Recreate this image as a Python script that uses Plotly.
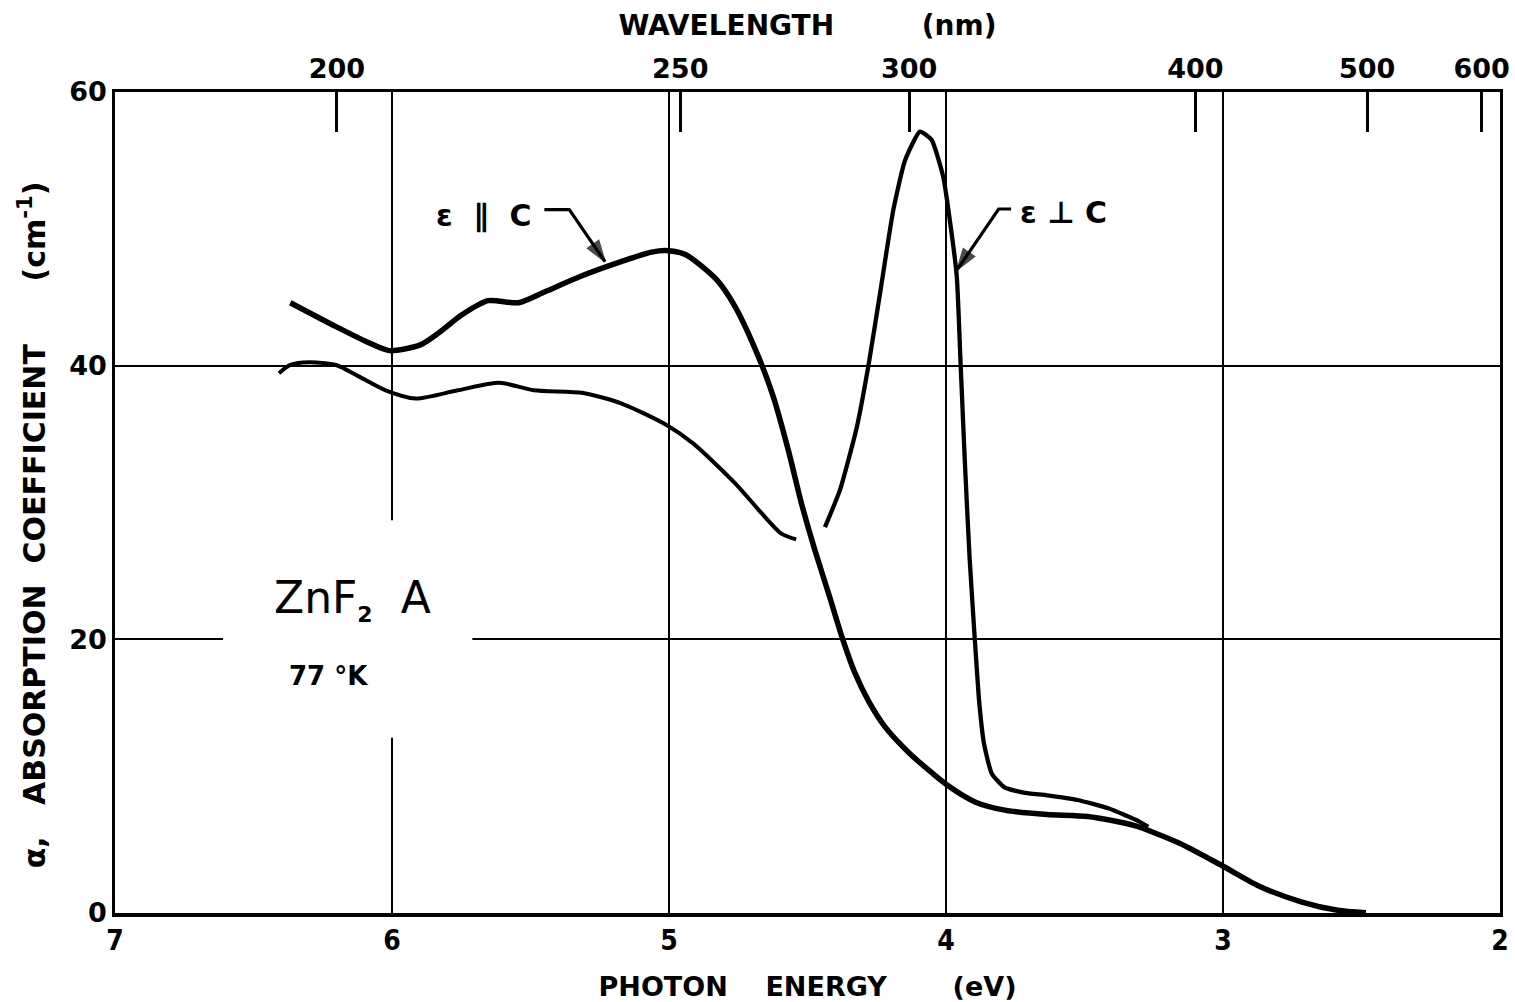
import plotly.graph_objects as go

# ---- data ----
# E parallel c  (photon energy eV, absorption coefficient cm^-1)
par_E = [6.367, 6.202, 6.092, 6.010, 5.900, 5.831, 5.749, 5.653, 5.543, 5.448, 5.323, 5.173,
         5.063, 5.001, 4.939, 4.829, 4.761, 4.678, 4.623, 4.569, 4.520, 4.470, 4.420, 4.376,
         4.330, 4.280, 4.220, 4.133, 3.996, 3.893, 3.783, 3.635, 3.488, 3.322, 3.157, 2.998,
         2.863, 2.715, 2.586, 2.484]
par_a = [44.6, 42.85, 41.75, 41.1, 41.5, 42.4, 43.7, 44.75, 44.6, 45.4, 46.5, 47.6,
         48.3, 48.4, 48.1, 46.3, 44.3, 40.7, 37.7, 33.8, 29.8, 26.3, 23.1, 20.2,
         17.6, 15.5, 13.6, 11.7, 9.35, 8.1, 7.5, 7.2, 7.05, 6.4, 5.1, 3.4,
         1.9, 0.8, 0.2, 0.02]

# E perpendicular c : high-energy branch (broken where it crosses the other curve)
perp1_E = [6.408, 6.367, 6.298, 6.202, 6.119, 6.023, 5.914, 5.763, 5.612, 5.488, 5.310,
           5.173, 5.012, 4.912, 4.761, 4.665, 4.596, 4.541]
perp1_a = [39.45, 40.05, 40.25, 40.05, 39.2, 38.2, 37.6, 38.2, 38.75, 38.2, 38.0,
           37.25, 35.7, 34.3, 31.4, 29.2, 27.75, 27.3]
# E perpendicular c : peak branch
perp2_E = [4.437, 4.383, 4.322, 4.280, 4.238, 4.190, 4.148, 4.094, 4.052, 4.010, 3.986,
           3.961, 3.947, 3.932, 3.915, 3.896, 3.880, 3.863, 3.835, 3.790, 3.720, 3.635,
           3.525, 3.414, 3.304, 3.270]
perp2_a = [28.2, 30.9, 35.5, 40.0, 45.3, 51.4, 55.0, 57.1, 56.5, 53.8, 50.6,
           46.5, 40.0, 33.0, 26.0, 20.0, 15.4, 12.4, 10.2, 9.2, 8.8, 8.6,
           8.26, 7.65, 6.7, 6.3]

x_ticks = [7, 6, 5, 4, 3, 2]
y_ticks = [0, 20, 40, 60]
wl_ticks = [200, 250, 300, 400, 500, 600]   # nm
HC = 1239.84  # eV nm

# label leader lines (energy, alpha): text end -> bend -> arrow tip
par_lead_E = [5.45, 5.36, 5.231]
par_lead_a = [51.4, 51.4, 47.6]
perp_lead_E = [3.765, 3.81, 3.960]
perp_lead_a = [51.45, 51.45, 47.0]

FC = "DejaVu Sans Condensed"
FS = "DejaVu Sans"
NB = "\u00a0"

fig = go.Figure()
fig.add_trace(go.Scatter(x=par_E, y=par_a, mode="lines",
                         line=dict(color="black", width=5.5, shape="spline", smoothing=0.7),
                         name="ε ∥ c", showlegend=False, hoverinfo="skip"))
fig.add_trace(go.Scatter(x=perp1_E, y=perp1_a, mode="lines",
                         line=dict(color="black", width=4, shape="spline", smoothing=0.7),
                         name="ε ⊥ c", showlegend=False, hoverinfo="skip"))
fig.add_trace(go.Scatter(x=perp2_E, y=perp2_a, mode="lines",
                         line=dict(color="black", width=4.3, shape="spline", smoothing=0.5),
                         name="ε ⊥ c", showlegend=False, hoverinfo="skip"))
# leader lines with arrow heads
for lx, ly in ((par_lead_E, par_lead_a), (perp_lead_E, perp_lead_a)):
    fig.add_trace(go.Scatter(x=lx, y=ly, mode="lines+markers",
                             line=dict(color="black", width=3.2),
                             marker=dict(symbol=["circle", "circle", "arrow"], size=[0, 0, 22],
                                         angleref="previous", color="black",
                                         line=dict(width=1.5, color="black")),
                             showlegend=False, hoverinfo="skip"))
# helper (invisible) trace so that the top wavelength axis is drawn
fig.add_trace(go.Scatter(x=[7, 2], y=[0, 0], xaxis="x2", mode="lines",
                         line=dict(width=0), opacity=0, showlegend=False, hoverinfo="skip"))

fig.update_layout(
    width=1515, height=1002,
    margin=dict(l=115, r=15, t=92, b=89, autoexpand=False),
    paper_bgcolor="white", plot_bgcolor="white",
    font=dict(family=FC, color="black"),
    xaxis=dict(range=[7, 2], tickvals=x_ticks, ticktext=[str(v) for v in x_ticks],
               showgrid=True, gridcolor="black", gridwidth=1.6, automargin=False,
               showline=True, linecolor="black", linewidth=3.5, mirror=False,
               ticks="", zeroline=False,
               tickfont=dict(size=28, family=FC, weight="bold"),
               title=dict(text="PHOTON" + NB * 4 + "ENERGY" + NB * 7 + "(eV)",
                          font=dict(size=27, family=FS, weight="bold"), standoff=22)),
    xaxis2=dict(overlaying="x", side="top", range=[7, 2], automargin=False,
                tickvals=[HC / w for w in wl_ticks], ticktext=[str(w) for w in wl_ticks],
                ticks="inside", ticklen=40, tickwidth=2.5, tickcolor="black",
                showgrid=False, showline=True, linecolor="black", linewidth=3,
                zeroline=False,
                tickfont=dict(size=27, family=FS, weight="bold"),
                title=dict(text="WAVELENGTH" + NB * 9 + "(nm)",
                           font=dict(size=28, family=FS, weight="bold"), standoff=10)),
    yaxis=dict(range=[0, 60], tickvals=y_ticks, ticktext=[str(v) for v in y_ticks],
               showgrid=True, gridcolor="black", gridwidth=1.6, automargin=False,
               showline=True, linecolor="black", linewidth=2.5, mirror=True,
               ticks="", zeroline=False,
               tickfont=dict(size=27, family=FS, weight="bold")),
)

# y-axis title (placed as rotated text, slightly below the plot centre as in the original)
fig.add_annotation(xref="paper", yref="paper", x=-0.0595, y=0.473, showarrow=False,
                   textangle=-90, xanchor="center", yanchor="middle",
                   text="α," + NB * 3 + "ABSORPTION" + NB * 2 + "COEFFICIENT" + NB * 6
                        + "(cm<sup>-1</sup>)",
                   font=dict(size=30, family=FS, weight="bold", color="black"))

# white box behind the sample label (interrupts grid lines)
fig.add_shape(type="rect", xref="x", yref="y", x0=6.61, x1=5.71, y0=12.8, y1=28.7,
              fillcolor="white", line=dict(width=0), layer="between")

# sample label
fig.add_annotation(x=6.144, y=22.9, xref="x", yref="y", showarrow=False,
                   text="ZnF<sub><span style='font-size:22px;font-weight:bold'>2</span></sub>"
                        + NB * 2 + "A",
                   font=dict(size=44, family=FS, color="black"))
fig.add_annotation(x=6.231, y=17.3, xref="x", yref="y", showarrow=False,
                   text="<b>77" + NB + "°K</b>", font=dict(size=26, family=FS, color="black"))

# curve labels
fig.add_annotation(x=5.668, y=51.0, xref="x", yref="y", showarrow=False,
                   text="<b>ε" + NB * 2 + "∥" + NB * 2 + "C</b>",
                   font=dict(size=30, family=FS, color="black"))
fig.add_annotation(x=3.575, y=51.2, xref="x", yref="y", showarrow=False,
                   text="<b>ε" + NB + "⊥" + NB + "C</b>",
                   font=dict(size=30, family=FS, color="black"))

fig.write_html("out.html")
